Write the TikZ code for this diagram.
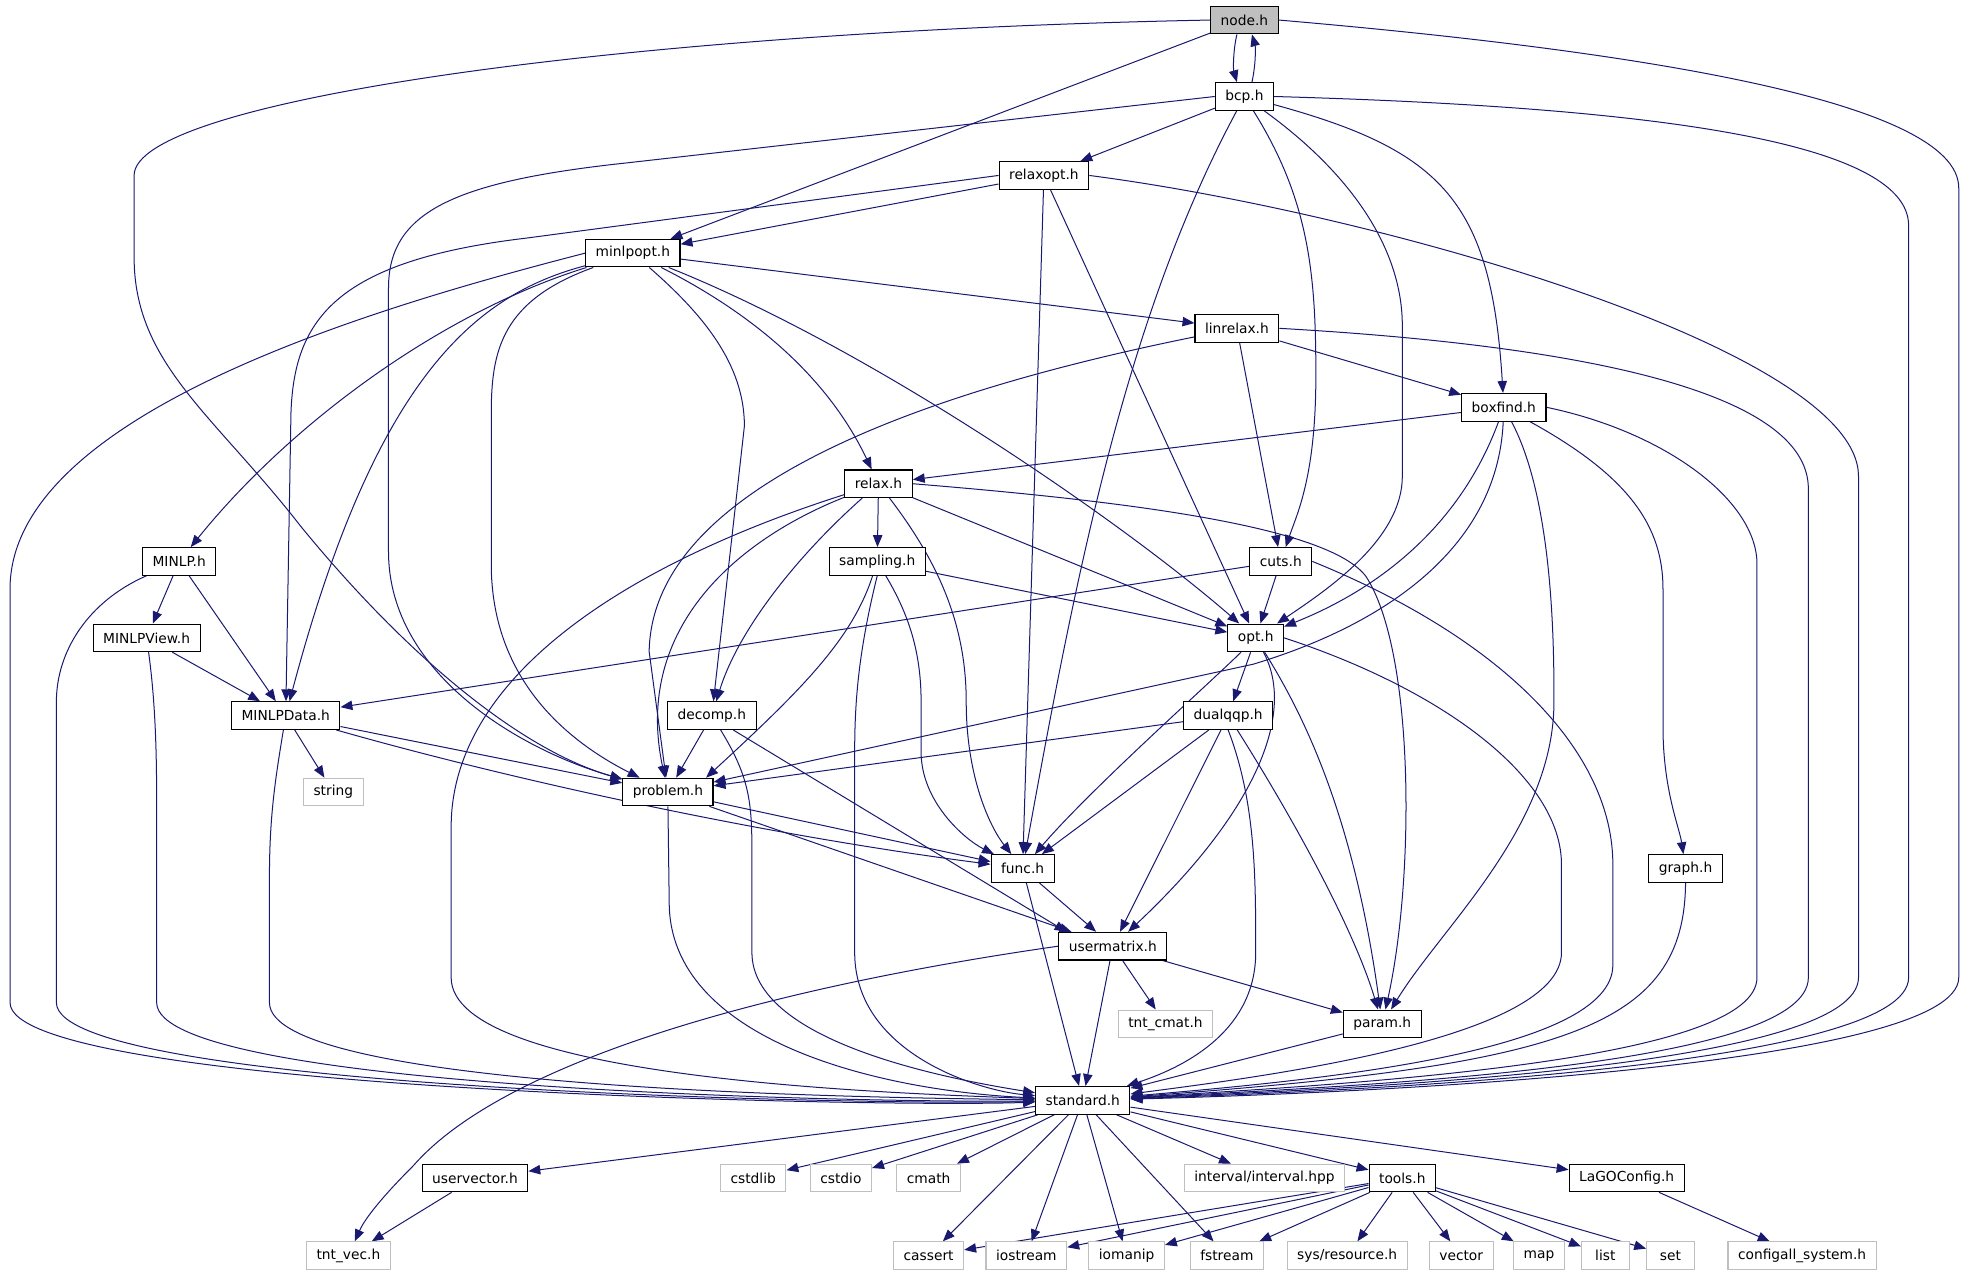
\documentclass[tikz,border=0pt]{standalone}
\usepackage{fontspec}
\setmainfont{DejaVu Sans}
\usetikzlibrary{arrows.meta,backgrounds}
\definecolor{edgeblue}{HTML}{191970}
\definecolor{extgray}{HTML}{BFBFBF}

\begin{document}
\begin{tikzpicture}[x=1pt,y=-1pt,
  hdr/.style={draw=black,fill=white,line width=0.9pt,minimum height=22pt,minimum width=38pt,inner xsep=8pt,inner ysep=0pt,font=\fontsize{11}{13}\selectfont},
  ext/.style={hdr,draw=extgray},
  dep/.style={draw=edgeblue,line width=0.8pt,-{Triangle[length=9.5pt,width=7.5pt]}}]
\useasboundingbox (0,0) rectangle (1568,1019);
\node[hdr,fill=extgray] (nodeh) at (993,16) {node.h};
\foreach \nm/\x/\y/\txt in {bcp/993/77/bcp.h, relaxopt/833/140/relaxopt.h,
   minlpopt/505/202/minlpopt.h, linrelax/987/262/linrelax.h, boxfind/1200/325/boxfind.h,
   relax/701/386/relax.h, minlp/143/448/MINLP.h, sampling/700/448/sampling.h,
   cuts/1022/448/cuts.h, minlpview/117/509/MINLPView.h, opt/1002/509/opt.h,
   minlpdata/228/571/MINLPData.h, decomp/568/571/decomp.h, dualqqp/980/571/dualqqp.h,
   problem/533/632/problem.h, func/816/693/func.h, graph/1345/693/graph.h,
   usermatrix/888/755/usermatrix.h, param/1103/817/param.h, standard/864/878/standard.h,
   uservector/379/940/uservector.h, tools/1119/940/tools.h, lagoconfig/1298/940/LaGOConfig.h} {
   \node[hdr] (\nm) at (\x,\y) {\txt};
}
\foreach \nm/\x/\y/\txt in {string/266/632/string, tntcmat/930/817/tnt\_cmat.h,
   cstdlib/601/940/cstdlib, cstdio/671/940/cstdio, cmath/741/940/cmath,
   tntvec/278/1002/tnt\_vec.h, cassert/741/1002/cassert, iostream/819/1002/iostream,
   iomanip/899/1002/iomanip, fstream/979/1002/fstream, vector/1166/1002/vector,
   map/1228/1002/map, list/1281/1002/list, set/1333/1002/set,
   configall/1438/1002/configall\_system.h} {
   \node[ext] (\nm) at (\x,\y) {\txt};
}
\node[ext] (interval) at (1009,940) {interval/interval.hpp};
\node[ext] (sysres) at (1075,1002) {sys/resource.h};
\begin{scope}[on background layer]
% straight includes
\foreach \a/\b in {nodeh/minlpopt, bcp/relaxopt, relaxopt/minlpopt, relaxopt/func,
   relaxopt/opt, minlpopt/linrelax, linrelax/cuts, linrelax/boxfind, boxfind/relax,
   relax/sampling, relax/opt, sampling/opt, minlp/minlpview, minlp/minlpdata,
   minlpview/minlpdata, cuts/minlpdata, cuts/opt, opt/dualqqp, minlpdata/string,
   minlpdata/problem, decomp/problem, dualqqp/problem, dualqqp/func,
   dualqqp/usermatrix, problem/func, problem/usermatrix, func/usermatrix, func/standard,
   usermatrix/tntcmat, usermatrix/param, usermatrix/standard, param/standard,
   standard/uservector, standard/cstdlib, standard/cstdio, standard/cmath,
   standard/interval, standard/tools, standard/lagoconfig, standard/cassert,
   standard/iostream, standard/iomanip, standard/fstream, uservector/tntvec,
   tools/cassert, tools/iostream, tools/iomanip, tools/fstream, tools/sysres,
   tools/vector, tools/map, tools/list, tools/set, lagoconfig/configall} {
   \draw[dep] (\a) -- (\b);
}
\draw[dep] ([xshift=17pt]decomp.south) -- ([xshift=-37pt]usermatrix.north);
% curved includes
\draw[dep] ([xshift=-6pt]nodeh.south) .. controls (984,40) and (984,55) .. ([xshift=-6pt]bcp.north);
\draw[dep] ([xshift=6pt]bcp.north) .. controls (1002,52) and (1002,38) .. ([xshift=6pt]nodeh.south);
\draw[dep] (nodeh.west) .. controls (500,25) and (107,80) .. (107,140) -- (107,205)
   .. controls (107,290) and (170,330) .. (240,420) .. controls (330,530) and (420,600) .. (problem);
\draw[dep] (nodeh.east) .. controls (1300,40) and (1563,80) .. (1563,150) -- (1563,780)
   .. controls (1563,850) and (1100,872) .. (standard);
\draw[dep] (bcp.west) -- (500,130) .. controls (360,145) and (310,170) .. (310,230) -- (310,440)
   .. controls (310,540) and (420,600) .. (problem);
\draw[dep] (bcp.east) .. controls (1300,85) and (1523,110) .. (1523,180) -- (1523,780)
   .. controls (1523,850) and (1100,870) .. (standard);
\draw[dep] (bcp) .. controls (900,250) and (860,450) .. (func);
\draw[dep] (bcp) .. controls (1045,160) and (1050,220) .. (1050,300) .. controls (1050,380) and (1035,410) .. (cuts);
\draw[dep] (bcp) .. controls (1080,140) and (1119,200) .. (1119,260) -- (1119,380)
   .. controls (1119,430) and (1060,470) .. (opt);
\draw[dep] (bcp) .. controls (1150,120) and (1190,160) .. (boxfind);
\draw[dep] (relaxopt.west) -- (420,190) .. controls (260,209) and (232,260) .. (232,340) -- (minlpdata);
\draw[dep] (relaxopt.east) .. controls (1100,170) and (1483,280) .. (1483,380) -- (1483,780)
   .. controls (1483,850) and (1100,868) .. (standard);
\draw[dep] (minlpopt.west) .. controls (300,245) and (8,330) .. (8,470) -- (8,800)
   .. controls (8,870) and (700,884) .. (standard);
\draw[dep] (minlpopt) .. controls (350,250) and (230,340) .. (minlp);
\draw[dep] (minlpopt) .. controls (380,235) and (300,300) .. (minlpdata);
\draw[dep] (minlpopt) .. controls (400,240) and (392,280) .. (392,330) -- (392,450)
   .. controls (392,540) and (450,590) .. (problem);
\draw[dep] (minlpopt) .. controls (560,250) and (594,290) .. (594,340) -- (decomp);
\draw[dep] (minlpopt) .. controls (600,250) and (660,300) .. (relax);
\draw[dep] (minlpopt) .. controls (700,280) and (900,420) .. (opt);
\draw[dep] (linrelax) .. controls (700,320) and (520,400) .. (518,520) -- (problem);
\draw[dep] (linrelax.east) .. controls (1250,275) and (1443,310) .. (1443,390) -- (1443,780)
   .. controls (1443,850) and (1100,866) .. (standard);
\draw[dep] (boxfind) .. controls (1165,420) and (1100,470) .. (opt);
\draw[dep] (boxfind) .. controls (1195,440) and (1100,500) .. (1000,530) -- (problem);
\draw[dep] (boxfind) .. controls (1240,400) and (1240,520) .. (1240,560) .. controls (1240,660) and (1150,740) .. (param);
\draw[dep] (boxfind) .. controls (1300,380) and (1327,420) .. (1327,470) -- (1327,580)
   .. controls (1327,630) and (1340,660) .. (graph);
\draw[dep] (boxfind.east) .. controls (1330,345) and (1402,400) .. (1402,450) -- (1402,780)
   .. controls (1402,845) and (1100,864) .. (standard);
\draw[dep] (relax) .. controls (640,440) and (590,500) .. (decomp);
\draw[dep] (relax) .. controls (590,430) and (505,500) .. (problem);
\draw[dep] (relax) .. controls (750,450) and (771,500) .. (771,560) .. controls (771,620) and (790,660) .. (func);
\draw[dep] (relax.east) .. controls (900,400) and (1060,420) .. (1090,460)
   .. controls (1129,520) and (1129,700) .. (param);
\draw[dep] (relax) .. controls (500,450) and (360,540) .. (360,660) -- (360,780)
   .. controls (360,860) and (700,872) .. (standard);
\draw[dep] (minlp) .. controls (70,480) and (45,520) .. (45,560) -- (45,800)
   .. controls (45,870) and (700,882) .. (standard);
\draw[dep] (sampling) .. controls (680,510) and (640,550) .. ([xshift=-6pt]problem.north east);
\draw[dep] (sampling) .. controls (725,490) and (735,520) .. (735,560) -- (735,600)
   .. controls (735,640) and (770,670) .. (func);
\draw[dep] (sampling.south) .. controls (685,520) and (682,560) .. (682,600) -- (682,760)
   .. controls (682,840) and (780,870) .. (standard);
\draw[dep] (cuts.east) .. controls (1200,510) and (1287,600) .. (1287,690) -- (1287,770)
   .. controls (1287,840) and (1050,862) .. (standard);
\draw[dep] (minlpview) .. controls (124,560) and (125,600) .. (125,640) -- (125,800)
   .. controls (125,870) and (700,880) .. (standard);
\draw[dep] (opt) .. controls (960,550) and (870,630) .. (func);
\draw[dep] (opt) .. controls (1035,570) and (1000,650) .. (usermatrix);
\draw[dep] (opt) .. controls (1040,570) and (1080,650) .. (param);
\draw[dep] (opt.east) .. controls (1150,550) and (1246,620) .. (1246,690) -- (1246,760)
   .. controls (1246,830) and (1000,860) .. (standard);
\draw[dep] (minlpdata) .. controls (400,620) and (600,665) .. (func);
\draw[dep] (minlpdata) .. controls (220,620) and (215,650) .. (215,700) -- (215,800)
   .. controls (215,870) and (700,876) .. (standard);
\draw[dep] (decomp) .. controls (598,620) and (600,640) .. (600,680) -- (600,760)
   .. controls (600,830) and (750,860) .. (standard);
\draw[dep] (dualqqp) .. controls (1030,650) and (1080,740) .. (param);
\draw[dep] (dualqqp.south) .. controls (1002,640) and (1002,700) .. (1002,760)
   .. controls (1002,820) and (950,850) .. (standard);
\draw[dep] (problem.south) -- (534,720) .. controls (534,830) and (700,870) .. (standard);
\draw[dep] (graph.south) .. controls (1344,820) and (1250,850) .. (standard);
\draw[dep] (usermatrix.west) .. controls (600,790) and (400,850) .. (330,930)
   .. controls (300,960) and (290,975) .. (tntvec);
\end{scope}
\end{tikzpicture}
\end{document}
